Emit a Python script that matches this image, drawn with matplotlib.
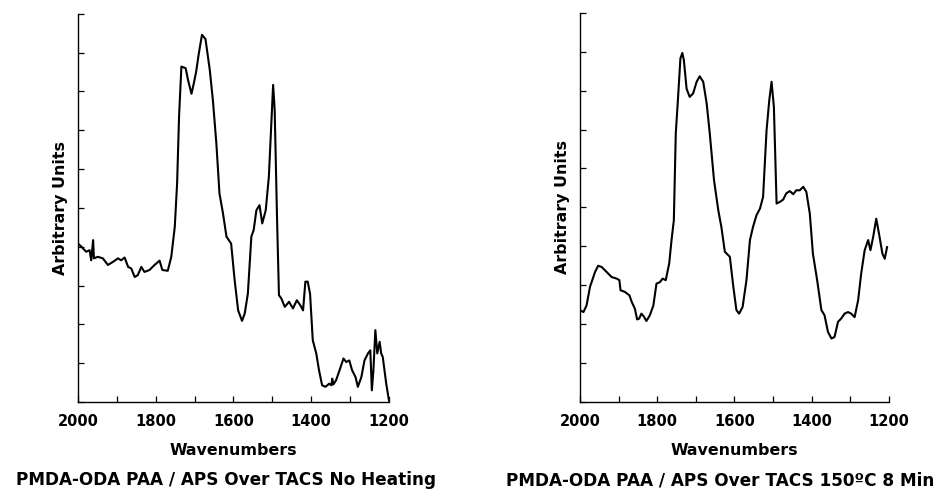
import numpy as np
import matplotlib.pyplot as plt
from matplotlib.ticker import MultipleLocator

# ----------------------------------------------------
# DATA (arbitrary units 0-10)
# ----------------------------------------------------
wn_noheat = [2000, 1991, 1979, 1970, 1966, 1961, 1959, 1949, 1936, 1923, 1910, 1897,
             1889, 1880, 1871, 1863, 1854, 1846, 1837, 1829, 1816, 1803, 1790, 1783,
             1769, 1760, 1751, 1745, 1740, 1734, 1723, 1717, 1708, 1702, 1696, 1689,
             1681, 1672, 1661, 1653, 1644, 1636, 1627, 1618, 1606, 1597, 1588, 1578,
             1571, 1563, 1554, 1548, 1541, 1533, 1526, 1517, 1509, 1503, 1498, 1494,
             1488, 1483, 1477, 1468, 1457, 1447, 1437, 1428, 1421, 1415, 1409, 1403,
             1396, 1387, 1380, 1372, 1363, 1354, 1348, 1346, 1343, 1336, 1327, 1317,
             1310, 1302, 1295, 1286, 1280, 1271, 1263, 1254, 1248, 1244, 1240, 1235,
             1230, 1224, 1220, 1216, 1207, 1200]
ab_noheat = [4.08, 4.00, 3.87, 3.91, 3.65, 4.17, 3.70, 3.74, 3.70, 3.53, 3.61, 3.70,
             3.65, 3.72, 3.48, 3.44, 3.22, 3.27, 3.48, 3.35, 3.40, 3.53, 3.64, 3.40,
             3.38, 3.74, 4.51, 5.63, 7.35, 8.64, 8.60, 8.30, 7.94, 8.21, 8.51, 8.99,
             9.46, 9.35, 8.56, 7.78, 6.66, 5.37, 4.86, 4.26, 4.08, 3.14, 2.36, 2.09,
             2.28, 2.79, 4.26, 4.43, 4.94, 5.07, 4.60, 4.94, 5.80, 7.09, 8.17, 7.52,
             4.77, 2.75, 2.67, 2.45, 2.58, 2.41, 2.62, 2.49, 2.36, 3.10, 3.10, 2.79,
             1.59, 1.25, 0.82, 0.43, 0.39, 0.47, 0.43, 0.60, 0.45, 0.56, 0.82, 1.12,
             1.03, 1.07, 0.82, 0.64, 0.39, 0.64, 1.07, 1.25, 1.33, 0.30, 0.82, 1.85,
             1.25, 1.55, 1.25, 1.16, 0.47, 0.04]

wn_150c = [2000, 1991, 1983, 1974, 1961, 1953, 1944, 1931, 1918, 1905, 1898, 1895,
           1884, 1872, 1866, 1858, 1852, 1847, 1841, 1835, 1828, 1819, 1810, 1802,
           1793, 1786, 1778, 1769, 1763, 1757, 1752, 1746, 1740, 1735, 1731, 1724,
           1716, 1707, 1698, 1690, 1681, 1672, 1664, 1653, 1642, 1634, 1625, 1612,
           1603, 1595, 1588, 1579, 1569, 1560, 1552, 1543, 1534, 1526, 1517, 1510,
           1504, 1498, 1491, 1483, 1474, 1466, 1457, 1448, 1440, 1431, 1422, 1414,
           1405, 1397, 1386, 1375, 1367, 1358, 1349, 1341, 1332, 1324, 1315, 1306,
           1298, 1289, 1280, 1272, 1263, 1254, 1248, 1241, 1233, 1226, 1217, 1211,
           1205]
ab_150c = [2.36, 2.31, 2.48, 2.96, 3.34, 3.50, 3.47, 3.34, 3.21, 3.17, 3.13, 2.87,
           2.83, 2.74, 2.57, 2.40, 2.12, 2.14, 2.27, 2.20, 2.08, 2.23, 2.48, 3.04,
           3.08, 3.17, 3.13, 3.56, 4.16, 4.67, 6.90, 7.84, 8.83, 8.97, 8.78, 8.05,
           7.84, 7.93, 8.23, 8.37, 8.23, 7.67, 6.90, 5.70, 4.93, 4.50, 3.86, 3.73,
           2.96, 2.36, 2.27, 2.44, 3.13, 4.16, 4.50, 4.80, 4.97, 5.27, 6.98, 7.75,
           8.23, 7.58, 5.10, 5.14, 5.20, 5.36, 5.42, 5.34, 5.44, 5.44, 5.53, 5.40,
           4.84, 3.81, 3.13, 2.36, 2.23, 1.80, 1.63, 1.67, 2.06, 2.14, 2.27, 2.31,
           2.27, 2.18, 2.61, 3.30, 3.90, 4.16, 3.90, 4.24, 4.71, 4.33, 3.81, 3.68,
           3.98]

captions = ["PMDA-ODA PAA / APS Over TACS No Heating",
            "PMDA-ODA PAA / APS Over TACS 150\u00baC 8 Min"]
xtick_labels = [2000, 1800, 1600, 1400, 1200]

plt.rcParams['font.family'] = ['DejaVu Sans']
plt.rcParams['font.weight'] = 'bold'

fig = plt.figure(figsize=(9.35, 4.95), dpi=100)
ax1 = fig.add_axes([0.0834, 0.188, 0.3326, 0.784])
ax2 = fig.add_axes([0.6203, 0.188, 0.3305, 0.786])


def style_panel(ax, wn, ab, caption, label_x):
    ax.plot(wn, ab, color='black', lw=1.5, solid_joinstyle='round')
    ax.set_xlim(2000, 1200)
    ax.set_ylim(0, 10)
    ax.spines['top'].set_visible(False)
    ax.spines['right'].set_visible(False)
    ax.spines['left'].set_linewidth(1.0)
    ax.spines['bottom'].set_linewidth(1.0)
    ax.set_xticks(xtick_labels)
    ax.set_xticklabels([str(v) for v in xtick_labels])
    ax.xaxis.set_minor_locator(MultipleLocator(100))
    ax.yaxis.set_major_locator(MultipleLocator(1))
    ax.set_yticklabels([])
    ax.tick_params(axis='both', which='both', direction='in', length=4, width=0.9)
    ax.tick_params(axis='x', labelsize=10.5, pad=9)
    ax.set_xlabel("Wavenumbers", fontsize=11.4, fontweight='bold', labelpad=10)
    ax.set_ylabel("Arbitrary Units", fontsize=11.4, fontweight='bold', labelpad=4)
    fig.text(label_x, 0.03, caption, fontsize=12.2, fontweight='bold',
             ha='center', va='center')


style_panel(ax1, wn_noheat, ab_noheat, captions[0], 0.242)
style_panel(ax2, wn_150c, ab_150c, captions[1], 0.770)

fig.savefig("out.png", dpi=100)
